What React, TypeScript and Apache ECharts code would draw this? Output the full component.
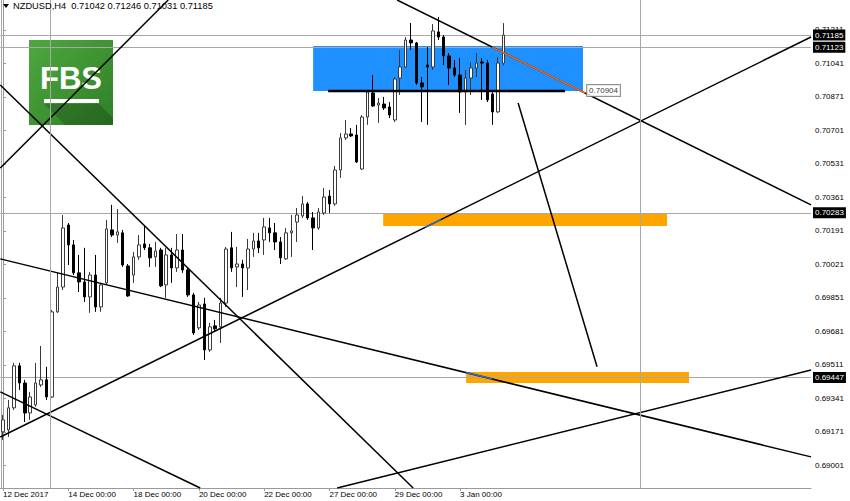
import React, { useEffect, useRef } from 'react';
import * as echarts from 'echarts';

// ---- data ----
const symbolHeader = 'NZDUSD,H4  0.71042 0.71246 0.71031 0.71185';
const barCount = 149;
const dateLabelIdx = [0, 12, 24, 36, 48, 60, 72, 84];
const dateLabels = ['12 Dec 2017', '14 Dec 00:00', '18 Dec 00:00', '20 Dec 00:00', '22 Dec 00:00', '27 Dec 00:00', '29 Dec 00:00', '3 Jan 00:00'];
const priceTicks = [0.69001, 0.69171, 0.69341, 0.69511, 0.69681, 0.69851, 0.70021, 0.70191, 0.70361, 0.70531, 0.70701, 0.70871, 0.71041, 0.71211];
const priceMin = 0.68886;
const priceMax = 0.71363;

// [open, close, low, high]
const candles: number[][] = [
  [0.69171, 0.69232, 0.6913, 0.69257],
  [0.69181, 0.69293, 0.69145, 0.69333],
  [0.69293, 0.69506, 0.69282, 0.69521],
  [0.69506, 0.69419, 0.69384, 0.69521],
  [0.69419, 0.69267, 0.69221, 0.69435],
  [0.69267, 0.69348, 0.69232, 0.69374],
  [0.69308, 0.69419, 0.69298, 0.69521],
  [0.69409, 0.69435, 0.69399, 0.69607],
  [0.69435, 0.69348, 0.69333, 0.69501],
  [0.69348, 0.6978, 0.69343, 0.6979],
  [0.6978, 0.69906, 0.69775, 0.69978],
  [0.69906, 0.70206, 0.69891, 0.70272],
  [0.70221, 0.7012, 0.70018, 0.70231],
  [0.7012, 0.69978, 0.69967, 0.70145],
  [0.69978, 0.69932, 0.69881, 0.70069],
  [0.69932, 0.69856, 0.6983, 0.70105],
  [0.69856, 0.69967, 0.69775, 0.69983],
  [0.69967, 0.69805, 0.6978, 0.70069],
  [0.69805, 0.69917, 0.6978, 0.69927],
  [0.69927, 0.70201, 0.69917, 0.70247],
  [0.70196, 0.7017, 0.7016, 0.70323],
  [0.7017, 0.70186, 0.7013, 0.70302],
  [0.70181, 0.70018, 0.70008, 0.70196],
  [0.70013, 0.69861, 0.69856, 0.70023],
  [0.69967, 0.70059, 0.69927, 0.70084],
  [0.70059, 0.7012, 0.70044, 0.7017],
  [0.70125, 0.70105, 0.70094, 0.70221],
  [0.70105, 0.70054, 0.70008, 0.70125],
  [0.70059, 0.70089, 0.70008, 0.70135],
  [0.70094, 0.69912, 0.69906, 0.70105],
  [0.69917, 0.70069, 0.69851, 0.70105],
  [0.70069, 0.70003, 0.69927, 0.70105],
  [0.70003, 0.70094, 0.69983, 0.70175],
  [0.70094, 0.69993, 0.69978, 0.70175],
  [0.69993, 0.69866, 0.69856, 0.70003],
  [0.69866, 0.69673, 0.69663, 0.69876],
  [0.69699, 0.69815, 0.69688, 0.6983],
  [0.6982, 0.69587, 0.69536, 0.69851],
  [0.69587, 0.69704, 0.69577, 0.69724],
  [0.69709, 0.69694, 0.69678, 0.69739],
  [0.69704, 0.69825, 0.69622, 0.69851],
  [0.69825, 0.70099, 0.69805, 0.7011],
  [0.70105, 0.70003, 0.69983, 0.70186],
  [0.70008, 0.70023, 0.69906, 0.7011],
  [0.70023, 0.70003, 0.69856, 0.70044],
  [0.70003, 0.70099, 0.69891, 0.7015],
  [0.70099, 0.7014, 0.70059, 0.70181],
  [0.7014, 0.70105, 0.70079, 0.70181],
  [0.70145, 0.70211, 0.70069, 0.70257],
  [0.70206, 0.70181, 0.70135, 0.70257],
  [0.70181, 0.70135, 0.70094, 0.70231],
  [0.70135, 0.70054, 0.70023, 0.7016],
  [0.70049, 0.70181, 0.70044, 0.70206],
  [0.70181, 0.70191, 0.70059, 0.70272],
  [0.70236, 0.70272, 0.70135, 0.70307],
  [0.70267, 0.70328, 0.70257, 0.70368],
  [0.70328, 0.70257, 0.70247, 0.70338],
  [0.70257, 0.70206, 0.70094, 0.70287],
  [0.70206, 0.70287, 0.70196, 0.70307],
  [0.70282, 0.70363, 0.70272, 0.70409],
  [0.70368, 0.70328, 0.70282, 0.70399],
  [0.70328, 0.705, 0.70318, 0.70521],
  [0.705, 0.70663, 0.7046, 0.70688],
  [0.70663, 0.70683, 0.70653, 0.70754],
  [0.70683, 0.70673, 0.70668, 0.70713],
  [0.70678, 0.70541, 0.70536, 0.70729],
  [0.70505, 0.70769, 0.705, 0.70779],
  [0.70769, 0.70896, 0.70729, 0.70906],
  [0.70891, 0.70825, 0.7082, 0.70982],
  [0.7083, 0.7084, 0.70739, 0.70866],
  [0.70835, 0.70815, 0.70805, 0.70871],
  [0.7082, 0.70779, 0.70764, 0.70845],
  [0.70754, 0.70962, 0.70744, 0.70972],
  [0.70967, 0.71023, 0.70881, 0.71109],
  [0.71023, 0.7116, 0.71018, 0.71175],
  [0.7116, 0.71145, 0.71109, 0.71246],
  [0.71145, 0.70942, 0.70932, 0.7115],
  [0.70942, 0.70922, 0.70744, 0.70972],
  [0.71033, 0.71023, 0.70729, 0.71124],
  [0.71023, 0.71206, 0.71008, 0.71241],
  [0.71201, 0.71175, 0.7116, 0.71277],
  [0.71175, 0.71079, 0.71033, 0.71185],
  [0.71079, 0.71018, 0.70932, 0.71094],
  [0.71018, 0.70982, 0.70972, 0.71059],
  [0.70982, 0.70896, 0.7079, 0.71069],
  [0.70896, 0.70967, 0.70729, 0.71008],
  [0.70967, 0.71018, 0.70881, 0.71048],
  [0.71018, 0.71043, 0.70972, 0.71094],
  [0.71048, 0.71043, 0.70856, 0.71069],
  [0.71043, 0.70856, 0.70845, 0.71059],
  [0.70886, 0.70795, 0.70729, 0.70906],
  [0.70795, 0.71043, 0.7079, 0.71074],
  [0.71042, 0.71185, 0.71031, 0.71246],
];

// horizontal price levels with boxed labels on the price scale
const levelPrices = [0.71185, 0.71123, 0.70283, 0.69447];
// vertical lines (bar index)
const verticalBars = [8.69, 117.08];

// trend lines: [barIndex, price] end points
const blackTrendLines: number[][][] = [
  [[-0.5, 0.70932], [75.38, 0.68886]],
  [[-0.5, 0.7051], [30.37, 0.71363]],
  [[72.44, 0.71363], [148.5, 0.70323]],
  [[-0.5, 0.69145], [148.5, 0.71175]],
  [[-0.5, 0.70049], [148.5, 0.69044]],
  [[61.41, 0.68886], [148.5, 0.69485]],
  [[-0.5, 0.69374], [36.24, 0.68886]],
  [[94.67, 0.7084], [109.18, 0.69501]],
];
const orangeTrendLine = [[89.89, 0.71124], [106.98, 0.70891]];
const blueSegments: number[][][] = [
  [[77.6, 0.70209], [80.5, 0.70249]],
  [[85.1, 0.69472], [89.9, 0.69439]],
];
const zoneBaseLine = [[59.76, 0.70901], [103.3, 0.70901]];
const zonePriceLabel = { bar: 107.35, price: 0.70904, text: '0.70904' };

// zones: [barFrom, barTo, priceLow, priceHigh]
const blueZone = [57.0, 106.6, 0.70901, 0.7113];
const orangeZones: number[][] = [
  [69.87, 122.04, 0.70216, 0.70277],
  [85.11, 126.08, 0.69419, 0.69475],
];

const FONT = '"Liberation Sans", Arial, sans-serif';

export default function App() {
  const ref = useRef<HTMLDivElement>(null);
  useEffect(() => {
    document.body.style.margin = '0';
    const chart = echarts.init(ref.current!, null, { renderer: 'svg' });
    const cats = Array.from({ length: barCount }, (_, i) => String(i));
    const labelSet = new Set(dateLabelIdx);
    const labelMap = new Map(dateLabelIdx.map((d, k) => [d, dateLabels[k]]));

    const lineSeries = (data: number[][], color: string, width: number, z = 4) => ({
      type: 'line',
      xAxisIndex: 1,
      yAxisIndex: 0,
      data,
      symbol: 'none',
      silent: true,
      clip: true,
      z,
      lineStyle: { color, width },
    });

    const option: any = {
      animation: false,
      backgroundColor: '#ffffff',
      grid: { left: 0, top: 0, width: 811, height: 488 },
      xAxis: [
        {
          type: 'category',
          data: cats,
          boundaryGap: true,
          axisLine: { show: true, lineStyle: { color: '#9a9a9a', width: 1 } },
          axisTick: {
            show: true,
            alignWithLabel: true,
            interval: (i: number) => labelSet.has(i),
            length: 3,
            lineStyle: { color: '#9a9a9a' },
          },
          axisLabel: {
            interval: (i: number) => labelSet.has(i),
            formatter: (v: string) => labelMap.get(Number(v)) || '',
            align: 'left',
            margin: 2,
            fontSize: 8,
            fontFamily: FONT,
            color: '#000',
          },
          splitLine: { show: false },
        },
        { type: 'value', min: -0.5, max: 148.5, show: false },
      ],
      yAxis: [
        {
          type: 'value',
          position: 'right',
          min: priceMin,
          max: priceMax,
          axisLine: { show: true, lineStyle: { color: '#9a9a9a', width: 1 } },
          axisTick: { show: true, customValues: priceTicks, length: 3, lineStyle: { color: '#9a9a9a' } },
          axisLabel: {
            customValues: priceTicks,
            formatter: (v: number) => v.toFixed(5),
            fontSize: 8,
            fontFamily: FONT,
            color: '#000',
            margin: 4,
          },
          splitLine: { show: false },
        },
      ],
      series: [
        {
          type: 'line',
          xAxisIndex: 1,
          yAxisIndex: 0,
          data: [[-10, 0.5]],
          symbol: 'none',
          silent: true,
          z: 0,
          markArea: {
            silent: true,
            z: 0,
            data: [
              [
                { coord: [blueZone[0], blueZone[3]], itemStyle: { color: '#1e90ff', opacity: 1 } },
                { coord: [blueZone[1], blueZone[2]] },
              ],
              ...orangeZones.map((z) => [
                { coord: [z[0], z[3]], itemStyle: { color: '#ffa500', opacity: 1 } },
                { coord: [z[1], z[2]] },
              ]),
            ],
          },
          markLine: {
            silent: true,
            symbol: 'none',
            precision: 4,
            label: { show: false },
            lineStyle: { color: '#a8a8a8', width: 1, type: 'solid' },
            data: verticalBars.map((b) => ({ xAxis: b })),
          },
        },
        {
          type: 'candlestick',
          xAxisIndex: 0,
          yAxisIndex: 0,
          data: candles,
          barWidth: 3,
          z: 3,
          itemStyle: {
            color: '#ffffff',
            color0: '#000000',
            borderColor: '#3a3a3a',
            borderColor0: '#000000',
            borderWidth: 1,
          },
          markLine: {
            silent: true,
            symbol: 'none',
            precision: 5,
            z: 1,
            lineStyle: { color: '#a8a8a8', width: 1, type: 'solid' },
            label: {
              show: true,
              position: 'end',
              distance: 2,
              formatter: (p: any) => Number(p.value).toFixed(5),
              backgroundColor: '#000',
              color: '#fff',
              fontSize: 8,
              fontFamily: FONT,
              padding: [2, 2, 1, 2],
            },
            data: levelPrices.map((v) => ({ yAxis: v })),
          },
        },
        ...blackTrendLines.map((d) => lineSeries(d, '#000', 1.5)),
        lineSeries(orangeTrendLine, '#f26b1d', 1.5, 5),
        ...blueSegments.map((d) => lineSeries(d, '#1e6fe0', 1.5, 5)),
        lineSeries(zoneBaseLine, '#000', 2.5, 5),
        {
          type: 'scatter',
          xAxisIndex: 1,
          yAxisIndex: 0,
          data: [[zonePriceLabel.bar, zonePriceLabel.price]],
          symbolSize: 0,
          silent: true,
          z: 6,
          label: {
            show: true,
            position: 'right',
            distance: 0,
            formatter: zonePriceLabel.text,
            backgroundColor: '#fff',
            borderColor: '#777',
            borderWidth: 1,
            padding: [2, 2, 1, 2],
            fontSize: 8,
            fontFamily: FONT,
            color: '#000',
          },
        },
      ],
      graphic: [
        { type: 'line', shape: { x1: 1.5, y1: 0, x2: 1.5, y2: 488 }, style: { stroke: '#a8a8a8', lineWidth: 1 }, z: 1, silent: true },
        { type: 'polygon', shape: { points: [[3, 4], [9, 4], [6, 8]] }, style: { fill: '#000' }, z: 10, silent: true },
        {
          type: 'text', x: 13, y: 6, silent: true, z: 10,
          style: { text: symbolHeader, fontSize: 9.3, fontFamily: FONT, fill: '#000', verticalAlign: 'middle', textAlign: 'left' },
        },
        {
          type: 'group', z: 20, silent: true,
          children: [
            {
              type: 'rect', shape: { x: 29, y: 40, width: 84, height: 85 },
              style: {
                fill: new echarts.graphic.LinearGradient(0, 0, 1, 1, [
                  { offset: 0, color: '#4ea83e' },
                  { offset: 1, color: '#2f7f27' },
                ]),
              },
            },
            {
              type: 'polygon',
              shape: { points: [[44, 104], [99, 104], [113, 118], [113, 125], [65, 125]] },
              style: { fill: 'rgba(0,0,0,0.18)' },
            },
            {
              type: 'text', x: 71, y: 78,
              style: { text: 'FBS', fontSize: 31, fontWeight: 'bold', fontFamily: FONT, fill: '#fff', textAlign: 'center', verticalAlign: 'middle' },
            },
            { type: 'rect', shape: { x: 44, y: 99, width: 55, height: 4 }, style: { fill: '#fff' } },
          ],
        },
      ],
    };
    chart.setOption(option);
    return () => chart.dispose();
  }, []);
  return <div ref={ref} style={{ width: 850, height: 501, background: '#fff' }} />;
}
